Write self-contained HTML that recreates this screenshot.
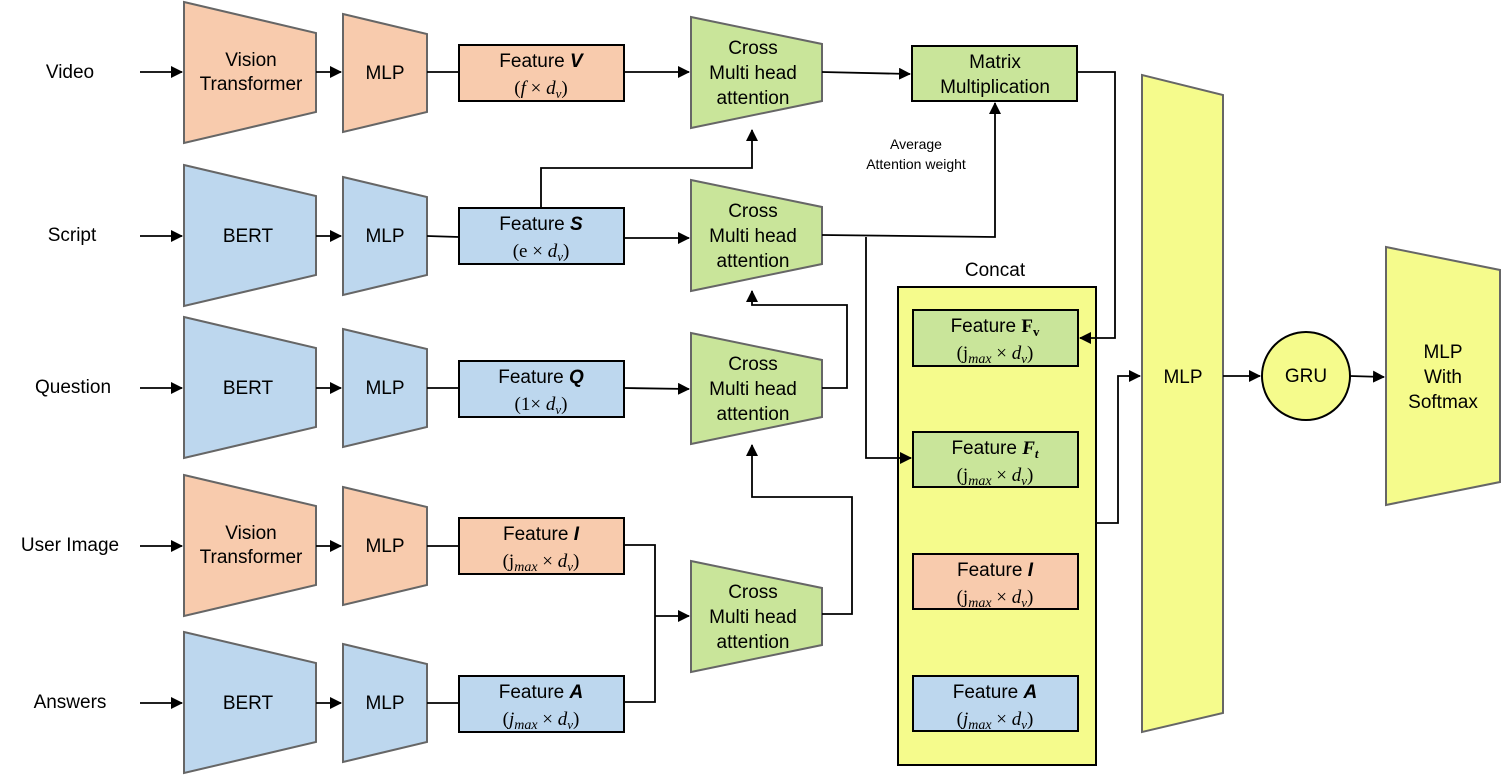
<!DOCTYPE html>
<html><head><meta charset="utf-8"><style>
html,body{margin:0;padding:0;background:#fff}
svg{display:block}
text{font-family:"Liberation Sans",sans-serif;font-size:19px;fill:#000;text-anchor:middle}
.m{font-family:"Liberation Serif",serif;font-size:19px}
.i{font-style:italic}
.sm{font-size:14px}
.t{stroke:#666;stroke-width:2}
.b{stroke:#000;stroke-width:2}
.l{stroke:#000;stroke-width:1.8;fill:none}
</style></head><body>
<svg width="1502" height="775" viewBox="0 0 1502 775" xmlns="http://www.w3.org/2000/svg">
<defs><marker id="a" markerWidth="12" markerHeight="12" refX="11" refY="6" orient="auto" markerUnits="userSpaceOnUse"><path d="M0,0 L12,6 L0,12 z" fill="#000"/></marker></defs>

<text x="70" y="78">Video</text>
<text x="72" y="241">Script</text>
<text x="73" y="393">Question</text>
<text x="70" y="551">User Image</text>
<text x="70" y="708">Answers</text>
<g class="l" marker-end="url(#a)">
<line x1="140" y1="72" x2="182" y2="72"/><line x1="140" y1="236" x2="182" y2="236"/>
<line x1="140" y1="388" x2="182" y2="388"/><line x1="140" y1="546" x2="182" y2="546"/>
<line x1="140" y1="703" x2="182" y2="703"/>
</g>

<g class="t">
<polygon points="184,2 316,33 316,112 184,143" fill="#f8cbad"/>
<polygon points="184,165 316,196 316,275 184,306" fill="#bdd7ee"/>
<polygon points="184,317 316,348 316,427 184,458" fill="#bdd7ee"/>
<polygon points="184,475 316,506 316,585 184,616" fill="#f8cbad"/>
<polygon points="184,632 316,663 316,742 184,773" fill="#bdd7ee"/>
<polygon points="343,14 427,34 427,112 343,132" fill="#f8cbad"/>
<polygon points="343,177 427,197 427,275 343,295" fill="#bdd7ee"/>
<polygon points="343,329 427,349 427,427 343,447" fill="#bdd7ee"/>
<polygon points="343,487 427,507 427,585 343,605" fill="#f8cbad"/>
<polygon points="343,644 427,664 427,742 343,762" fill="#bdd7ee"/>
</g>
<text x="251" y="66">Vision</text><text x="251" y="90">Transformer</text>
<text x="248" y="242">BERT</text><text x="248" y="394">BERT</text>
<text x="251" y="539">Vision</text><text x="251" y="563">Transformer</text>
<text x="248" y="709">BERT</text>
<text x="385" y="79">MLP</text><text x="385" y="242">MLP</text><text x="385" y="394">MLP</text>
<text x="385" y="552">MLP</text><text x="385" y="709">MLP</text>
<g class="l" marker-end="url(#a)">
<line x1="316" y1="72" x2="341" y2="72"/><line x1="316" y1="236" x2="341" y2="236"/>
<line x1="316" y1="388" x2="341" y2="388"/><line x1="316" y1="546" x2="341" y2="546"/>
<line x1="316" y1="703" x2="341" y2="703"/>
</g>
<g class="l">
<line x1="427" y1="72" x2="459" y2="72"/><line x1="427" y1="236" x2="459" y2="237"/>
<line x1="427" y1="388" x2="459" y2="388"/><line x1="427" y1="546" x2="459" y2="546"/>
<line x1="427" y1="703" x2="459" y2="703"/>
</g>

<g class="b">
<rect x="459" y="45" width="165" height="56" fill="#f8cbad"/>
<rect x="459" y="208" width="165" height="56" fill="#bdd7ee"/>
<rect x="459" y="361" width="165" height="56" fill="#bdd7ee"/>
<rect x="459" y="518" width="165" height="56" fill="#f8cbad"/>
<rect x="459" y="676" width="165" height="56" fill="#bdd7ee"/>
</g>
<text x="541" y="67">Feature <tspan font-weight="bold" font-style="italic">V</tspan></text>
<text x="541" y="94" class="m">(<tspan class="i">f</tspan> × <tspan class="i">d<tspan font-size="13" dy="4">v</tspan></tspan><tspan dy="-4">)</tspan></text>
<text x="541" y="230">Feature <tspan font-weight="bold" font-style="italic">S</tspan></text>
<text x="541" y="257" class="m">(e × <tspan class="i">d<tspan font-size="13" dy="4">v</tspan></tspan><tspan dy="-4">)</tspan></text>
<text x="541" y="383">Feature <tspan font-weight="bold" font-style="italic">Q</tspan></text>
<text x="541" y="410" class="m">(1× <tspan class="i">d<tspan font-size="13" dy="4">v</tspan></tspan><tspan dy="-4">)</tspan></text>
<text x="541" y="540">Feature <tspan font-weight="bold" font-style="italic">I</tspan></text>
<text x="541" y="567" class="m">(j<tspan class="i" font-size="14" dy="4">max</tspan><tspan dy="-4"> × </tspan><tspan class="i">d<tspan font-size="13" dy="4">v</tspan></tspan><tspan dy="-4">)</tspan></text>
<text x="541" y="698">Feature <tspan font-weight="bold" font-style="italic">A</tspan></text>
<text x="541" y="725" class="m">(<tspan class="i">j<tspan font-size="14" dy="4">max</tspan></tspan><tspan dy="-4"> × </tspan><tspan class="i">d<tspan font-size="13" dy="4">v</tspan></tspan><tspan dy="-4">)</tspan></text>

<g class="t" fill="#c9e59a">
<polygon points="691,17 822,44 822,101 691,128"/>
<polygon points="691,180 822,207 822,264 691,291"/>
<polygon points="691,333 822,360 822,417 691,444"/>
<polygon points="691,561 822,588 822,645 691,672"/>
</g>
<g>
<text x="753" y="54">Cross</text><text x="753" y="79">Multi head</text><text x="753" y="104">attention</text>
<text x="753" y="217">Cross</text><text x="753" y="242">Multi head</text><text x="753" y="267">attention</text>
<text x="753" y="370">Cross</text><text x="753" y="395">Multi head</text><text x="753" y="420">attention</text>
<text x="753" y="598">Cross</text><text x="753" y="623">Multi head</text><text x="753" y="648">attention</text>
</g>

<rect class="b" x="912" y="46" width="165" height="55" fill="#c9e59a"/>
<text x="995" y="68">Matrix</text><text x="995" y="93">Multiplication</text>
<text x="916" y="149" class="sm">Average</text><text x="916" y="169" class="sm">Attention weight</text>

<text x="995" y="276">Concat</text>
<rect class="b" x="898" y="287" width="198" height="478" fill="#f5fb8c"/>
<g class="b">
<rect x="913" y="310" width="165" height="56" fill="#c9e59a"/>
<rect x="913" y="432" width="165" height="55" fill="#c9e59a"/>
<rect x="913" y="554" width="165" height="55" fill="#f8cbad"/>
<rect x="913" y="676" width="165" height="55" fill="#bdd7ee"/>
</g>
<text x="995" y="332">Feature <tspan font-family="Liberation Serif" font-weight="bold">F<tspan font-size="13" dy="4">v</tspan></tspan></text>
<text x="995" y="359" class="m">(j<tspan class="i" font-size="14" dy="4">max</tspan><tspan dy="-4"> × </tspan><tspan class="i">d<tspan font-size="13" dy="4">v</tspan></tspan><tspan dy="-4">)</tspan></text>
<text x="995" y="454">Feature <tspan font-family="Liberation Serif" font-weight="bold" font-style="italic">F<tspan font-size="13" dy="4">t</tspan></tspan></text>
<text x="995" y="481" class="m">(j<tspan class="i" font-size="14" dy="4">max</tspan><tspan dy="-4"> × </tspan><tspan class="i">d<tspan font-size="13" dy="4">v</tspan></tspan><tspan dy="-4">)</tspan></text>
<text x="995" y="576">Feature <tspan font-weight="bold" font-style="italic">I</tspan></text>
<text x="995" y="603" class="m">(j<tspan class="i" font-size="14" dy="4">max</tspan><tspan dy="-4"> × </tspan><tspan class="i">d<tspan font-size="13" dy="4">v</tspan></tspan><tspan dy="-4">)</tspan></text>
<text x="995" y="698">Feature <tspan font-weight="bold" font-style="italic">A</tspan></text>
<text x="995" y="725" class="m">(<tspan class="i">j<tspan font-size="14" dy="4">max</tspan></tspan><tspan dy="-4"> × </tspan><tspan class="i">d<tspan font-size="13" dy="4">v</tspan></tspan><tspan dy="-4">)</tspan></text>

<polygon class="t" points="1142,75 1223,95 1223,713 1142,732" fill="#f5fb8c"/>
<text x="1183" y="383">MLP</text>
<circle class="b" cx="1306" cy="376" r="44" fill="#f5fb8c"/>
<text x="1306" y="382">GRU</text>
<polygon class="t" points="1386,247 1500,270 1500,482 1386,505" fill="#f5fb8c"/>
<text x="1443" y="358">MLP</text><text x="1443" y="383">With</text><text x="1443" y="408">Softmax</text>

<g class="l" marker-end="url(#a)">
<line x1="624" y1="72" x2="689" y2="72"/>
<line x1="822" y1="72" x2="910" y2="74"/>
<polyline points="541,208 541,168 752,168 752,130"/>
<line x1="624" y1="238" x2="689" y2="238"/>
<polyline points="822,235 995,237 995,103"/>
<polyline points="866,237 866,458 911,458"/>
<polyline points="1077,72 1115,72 1115,338 1080,338"/>
<line x1="624" y1="388" x2="689" y2="389"/>
<polyline points="822,388 847,388 847,305 752,305 752,291"/>
<polyline points="655,616 689,616"/>
<polyline points="822,614 852,614 852,497 752,497 752,445"/>
<polyline points="1096,523 1118,523 1118,376 1140,376"/>
<line x1="1223" y1="376" x2="1260" y2="376"/>
<line x1="1350" y1="376" x2="1384" y2="377"/>
</g>
<polyline class="l" points="624,545 655,545 655,702 624,702"/>
</svg>
</body></html>
